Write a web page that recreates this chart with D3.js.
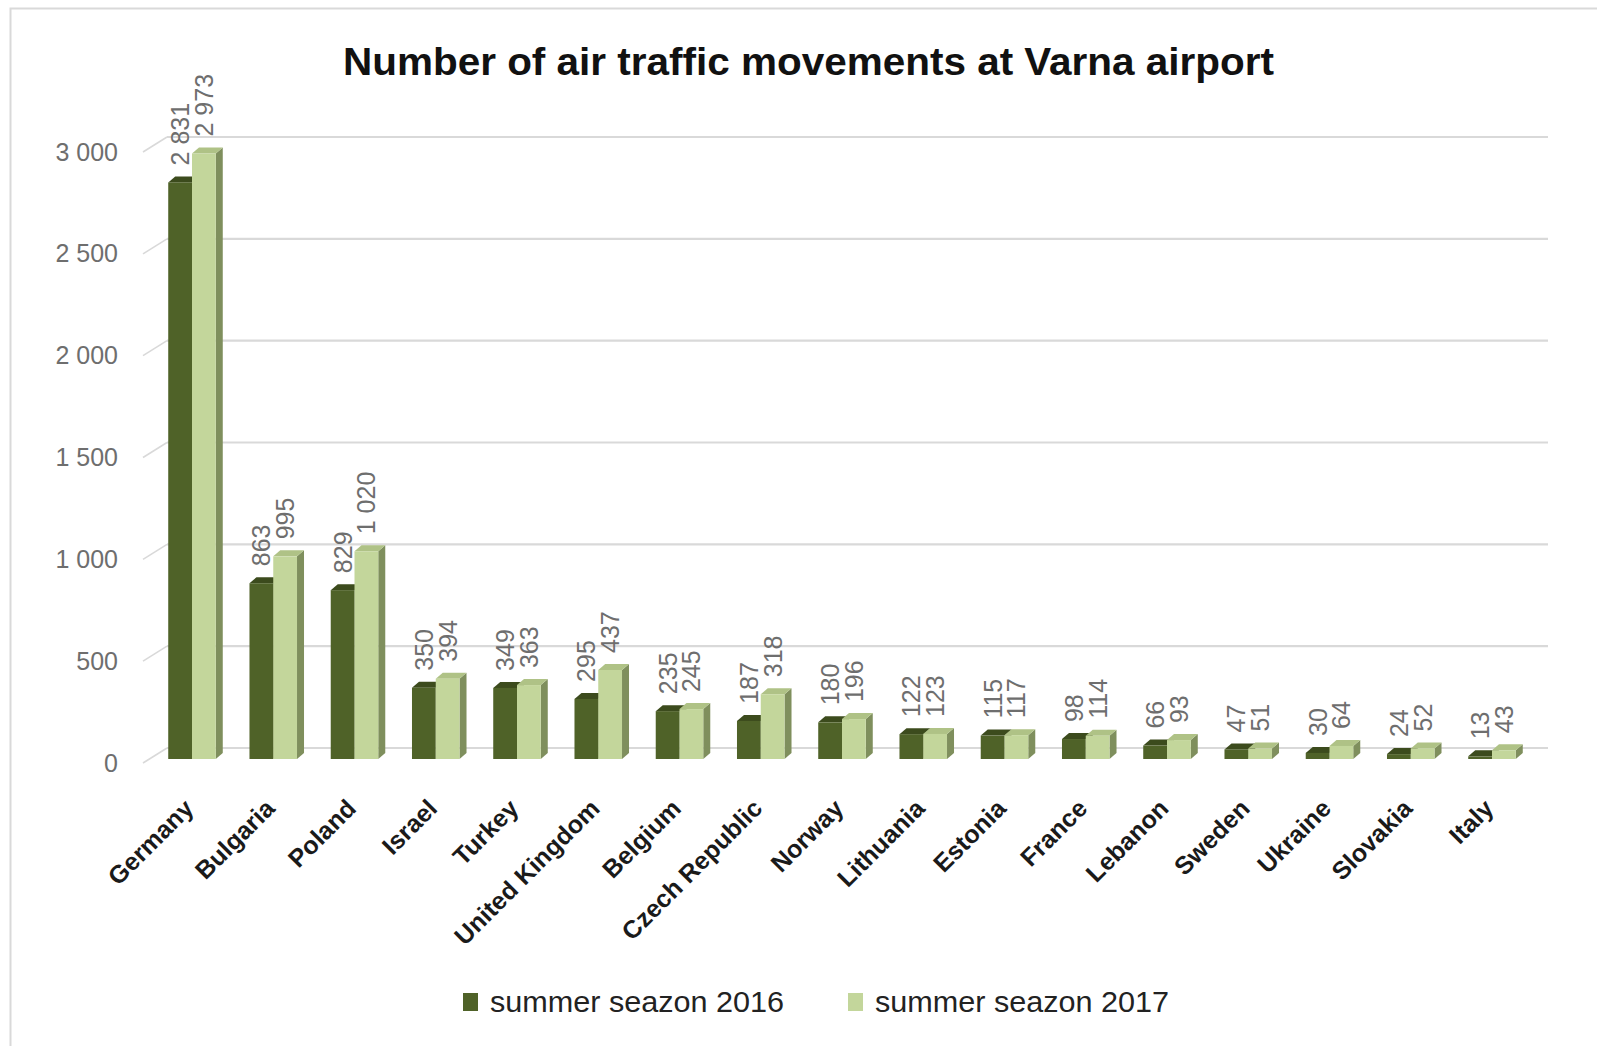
<!DOCTYPE html>
<html>
<head>
<meta charset="utf-8">
<script src="https://cdn.jsdelivr.net/npm/d3@7"></script>
<style>
  body { margin: 0; background: #fff; }
  svg { display: block; font-family: "Liberation Sans", Arial, sans-serif; }
</style>
</head>
<body>
<div id="chart"></div>
<script>
// datos
const countries = ["Germany", "Bulgaria", "Poland", "Israel", "Turkey", "United Kingdom", "Belgium",
  "Czech Republic", "Norway", "Lithuania", "Estonia", "France", "Lebanon", "Sweden", "Ukraine", "Slovakia", "Italy"];
const season2016 = [2831, 863, 829, 350, 349, 295, 235, 187, 180, 122, 115, 98, 66, 47, 30, 24, 13];
const season2017 = [2973, 995, 1020, 394, 363, 437, 245, 318, 196, 123, 117, 114, 93, 51, 64, 52, 43];
const seriesNames = ["summer seazon 2016", "summer seazon 2017"];
const yTicks = [0, 500, 1000, 1500, 2000, 2500, 3000];
const title = "Number of air traffic movements at Varna airport";

const W = 1597, H = 1046;
const colors = [
  { front: "#4f6228", top: "#3c4b1d", side: "#34411a" },
  { front: "#c3d69b", top: "#afc286", side: "#7f8f5d" }
];
const depth = { dx: 7, dy: -6 };     // profundidad de la barra
const wall = { dx: 24, dy: -15 };    // profundidad de la pared de fondo

const svg = d3.select("#chart").append("svg")
  .attr("width", W).attr("height", H);

// borde (solo arriba e izquierda, recortado)
svg.append("path")
  .attr("d", `M10.5,${H} L10.5,8.5 L${W},8.5`)
  .attr("fill", "none").attr("stroke", "#d9d9d9").attr("stroke-width", 2);

// ESCALAS
const x = d3.scaleBand().domain(countries)
  .range([151.375, 1532.625]).paddingInner(0.415).paddingOuter(0.2075);
const xs = d3.scaleBand().domain([0, 1]).range([0, x.bandwidth()]);
const y = d3.scaleLinear().domain([0, 3000]).range([759, 148]);

const fmt = d3.formatLocale({ thousands: " ", grouping: [3], decimal: ",", currency: ["", ""] }).format(",d");

// REJILLA (pared de fondo + lateral)
const grid = svg.append("g");
grid.selectAll(".back").data(yTicks).enter().append("line")
  .attr("x1", 143 + wall.dx).attr("x2", 1548)
  .attr("y1", d => y(d) - 11).attr("y2", d => y(d) - 11)
  .attr("stroke", "#d9d9d9").attr("stroke-width", 2.2);
grid.selectAll(".side").data(yTicks).enter().append("line")
  .attr("x1", 143).attr("y1", d => y(d) + 4)
  .attr("x2", 143 + wall.dx).attr("y2", d => y(d) + 4 + wall.dy)
  .attr("stroke", "#d9d9d9").attr("stroke-width", 1.6);

// EJE Y
const yAxisScale = y.copy().range([y(0) + 4, y(3000) + 4]);
const yAxis = svg.append("g")
  .attr("transform", "translate(143,0)")
  .call(d3.axisLeft(yAxisScale).tickValues(yTicks).tickFormat(fmt).tickSize(0).tickPadding(25));
yAxis.select(".domain").remove();
yAxis.selectAll("text")
  .attr("font-size", 25).attr("fill", "#6e6e6e")
  .attr("font-family", "'Liberation Sans', Arial, sans-serif");

// BARRAS 3D
const rows = countries.map((c, i) => ({ c, v: [season2016[i], season2017[i]] }));
const bars = svg.append("g");
rows.forEach(r => {
  [0, 1].forEach(s => {
    const x0 = x(r.c) + xs(s), w = xs.bandwidth();
    const yt = y(r.v[s]), yb = y(0);
    const g = bars.append("g");
    g.append("path")
      .attr("d", `M${x0 + w},${yt} L${x0 + w + depth.dx},${yt + depth.dy} L${x0 + w + depth.dx},${yb + depth.dy} L${x0 + w},${yb}Z`)
      .attr("fill", colors[s].side);
    g.append("path")
      .attr("d", `M${x0},${yt} L${x0 + w},${yt} L${x0 + w + depth.dx},${yt + depth.dy} L${x0 + depth.dx},${yt + depth.dy}Z`)
      .attr("fill", colors[s].top);
    g.append("rect")
      .attr("x", x0).attr("y", yt).attr("width", w).attr("height", yb - yt)
      .attr("fill", colors[s].front);
  });
});

// ETIQUETAS DE VALOR
rows.forEach(r => {
  [0, 1].forEach(s => {
    const cx = x(r.c) + xs(s) + xs.bandwidth() / 2;
    svg.append("text")
      .attr("transform", `translate(${cx + 9},${y(r.v[s]) - 17}) rotate(-90)`)
      .attr("font-size", 25).attr("fill", "#6e6e6e")
      .text(fmt(r.v[s]));
  });
});

// ETIQUETAS EJE X
svg.append("g").selectAll("text").data(countries).enter().append("text")
  .attr("transform", d => `translate(${x(d) + x.bandwidth() / 2 + 3},810) rotate(-45)`)
  .attr("text-anchor", "end")
  .attr("font-size", 25).attr("font-weight", "bold").attr("fill", "#1a1a1a")
  .text(d => d);

// TÍTULO
svg.append("text")
  .attr("x", 343).attr("y", 75)
  .attr("font-size", 39).attr("font-weight", "bold").attr("fill", "#111")
  .attr("textLength", 931).attr("lengthAdjust", "spacingAndGlyphs")
  .text(title);

// LEYENDA
const legendX = [463, 848];
seriesNames.forEach((name, i) => {
  svg.append("rect")
    .attr("x", legendX[i]).attr("y", 993).attr("width", 15).attr("height", 18)
    .attr("fill", colors[i].front);
  svg.append("text")
    .attr("x", legendX[i] + 27).attr("y", 1012)
    .attr("font-size", 29).attr("fill", "#222")
    .attr("textLength", 294).attr("lengthAdjust", "spacingAndGlyphs")
    .text(name);
});
</script>
</body>
</html>
